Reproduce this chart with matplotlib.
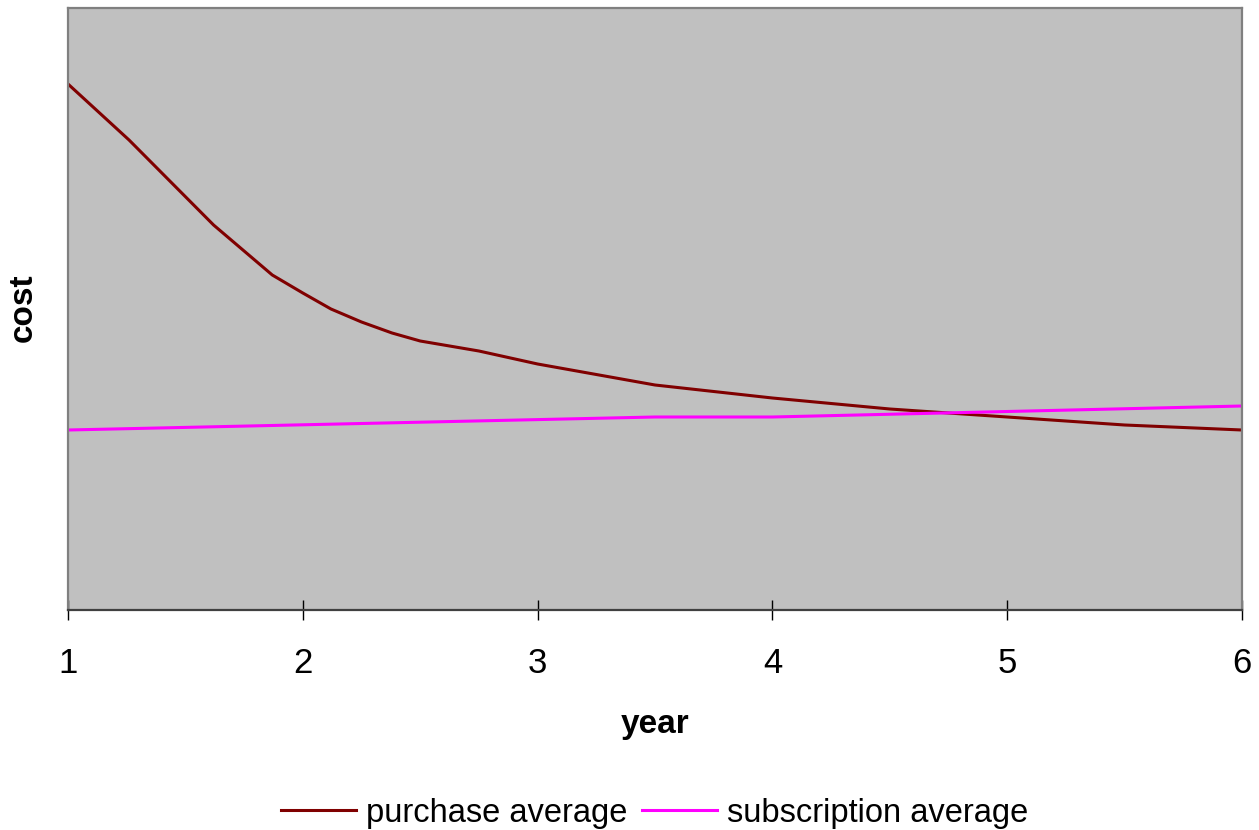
import matplotlib
matplotlib.use("Agg")
import matplotlib.pyplot as plt

plt.rcParams["font.family"] = ["Liberation Sans", "DejaVu Sans"]

# data (cost has no scale, arbitrary units)
purchase_year = [1.0, 1.26, 1.62, 1.87, 2.0, 2.12, 2.25, 2.38, 2.5, 2.75,
                 3.0, 3.5, 4.0, 4.5, 5.0, 5.5, 6.0]
purchase_cost = [526, 470, 385, 335, 317, 301, 288, 277, 269, 259,
                 246, 225, 212, 201, 193, 185, 180]
subscription_year = [1.0, 3.5, 4.0, 6.0]
subscription_cost = [180, 193, 193, 204]
year_ticks = [1, 2, 3, 4, 5, 6]

fig = plt.figure(figsize=(12.59, 8.30), dpi=100)
ax = fig.add_axes([68/1259, 1 - 610/830, 1174/1259, 602/830])
ax.set_facecolor("#C0C0C0")

ax.plot(purchase_year, purchase_cost, color="#800000", lw=2.2, label="purchase average")
ax.plot(subscription_year, subscription_cost, color="#FF00FF", lw=2.2, label="subscription average")

ax.set_xlim(1, 6)
ax.set_ylim(0, 602)
ax.set_xticks(year_ticks)
ax.set_yticks([])
ax.tick_params(axis="x", direction="inout", length=15, width=1.0, color="black",
               labelsize=25, pad=19)

for s in ["left", "top", "right"]:
    ax.spines[s].set_color("#808080")
    ax.spines[s].set_linewidth(1.6)
ax.spines["bottom"].set_color("#404040")
ax.spines["bottom"].set_linewidth(1.6)

ax.set_xlabel("year", fontsize=24, fontweight="bold")
ax.xaxis.label.set_va("baseline")
ax.xaxis.set_label_coords(0.5, (610 - 733) / 602)
ax.set_ylabel("cost", fontsize=24, fontweight="bold")
ax.yaxis.label.set_va("center")
ax.yaxis.set_label_coords((23 - 68) / 1174, (610 - 308) / 602)

fig.legend(loc="center", bbox_to_anchor=(654.5/1259, 17/830), ncol=2, frameon=False,
           fontsize=23.5, handlelength=2.3, handletextpad=0.3, columnspacing=0.45)

fig.savefig("out.png", dpi=100)
